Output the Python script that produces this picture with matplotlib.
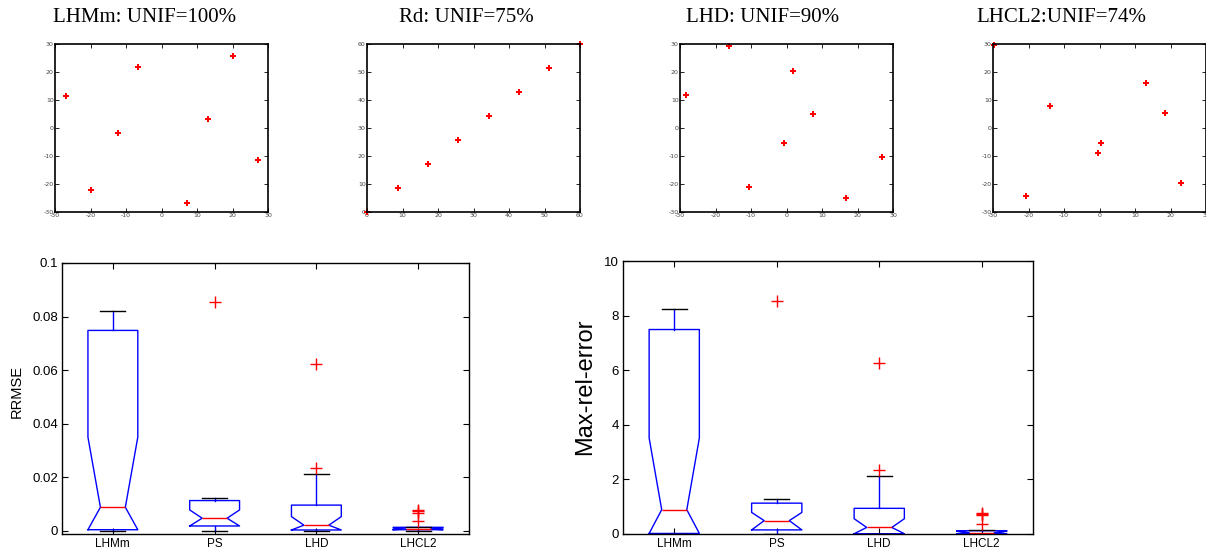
import matplotlib
matplotlib.use("Agg")
import matplotlib.pyplot as plt

plt.rcParams["axes.unicode_minus"] = False

# ---- scatter panels (design points) ----
titles = ["LHMm: UNIF=100%", "Rd: UNIF=75%", "LHD: UNIF=90%", "LHCL2:UNIF=74%"]
title_x = [145, 466, 763, 1061]

lhmm_x = [-26.8, -19.9, -12.2, -6.6, 7.2, 13.1, 20.1, 27.2]
lhmm_y = [11.4, -22.1, -1.8, 21.8, -26.8, 3.2, 25.6, -11.4]
rd_x = [0, 8.6, 17.1, 25.7, 34.3, 42.9, 51.4, 60]
rd_y = [0, 8.6, 17.1, 25.7, 34.3, 42.9, 51.4, 60]
lhd_x = [-28.3, -16.1, -10.5, -0.8, 1.9, 7.5, 16.9, 26.9]
lhd_y = [11.8, 29.4, -21.1, -5.4, 20.4, 5.0, -24.9, -10.2]
lhcl2_x = [-29.8, -20.6, -14.0, -0.3, 0.3, 13.2, 18.4, 22.9]
lhcl2_y = [29.6, -24.4, 7.9, -8.9, -5.2, 15.9, 5.5, -19.6]

sym_ticks = [-30, -20, -10, 0, 10, 20, 30]
pos_ticks = [0, 10, 20, 30, 40, 50, 60]

# ---- box plot summaries ----
methods = ["LHMm", "PS", "LHD", "LHCL2"]

rrmse_q1 = [0.0003, 0.0017, 0.0002, 0.0003]
rrmse_med = [0.0087, 0.0046, 0.0020, 0.0006]
rrmse_q3 = [0.0748, 0.0112, 0.0095, 0.0012]
rrmse_cilo = [0.0003, 0.0017, 0.0002, 0.0003]
rrmse_cihi = [0.0349, 0.0077, 0.0052, 0.0009]
rrmse_wlo = [0.0, 0.0, 0.0, 0.0]
rrmse_whi = [0.0822, 0.0123, 0.0210, 0.0014]
rrmse_fliers = [[], [0.0856], [0.0234, 0.0624], [0.0034, 0.0066, 0.0072, 0.0076]]
rrmse_ticks = [0, 0.02, 0.04, 0.06, 0.08, 0.1]
rrmse_ticklabels = ["0", "0.02", "0.04", "0.06", "0.08", "0.1"]

mre_q1 = [0.02, 0.15, 0.01, 0.01]
mre_med = [0.89, 0.49, 0.24, 0.05]
mre_q3 = [7.49, 1.13, 0.94, 0.12]
mre_cilo = [0.02, 0.15, 0.01, 0.01]
mre_cihi = [3.52, 0.79, 0.56, 0.10]
mre_wlo = [0.0, 0.0, 0.0, 0.0]
mre_whi = [8.26, 1.27, 2.11, 0.16]
mre_fliers = [[], [8.54], [2.33, 6.26], [0.35, 0.68, 0.72, 0.78]]
mre_ticks = [0, 2, 4, 6, 8, 10]
mre_ticklabels = ["0", "2", "4", "6", "8", "10"]

W, H = 1206, 556
fig = plt.figure(figsize=(W / 100, H / 100), dpi=100)

def px_axes(left, top, right, bottom):
    return fig.add_axes([left / W, 1 - bottom / H, (right - left) / W, (bottom - top) / H])

def style_small(ax, ticks):
    ax.set_xlim(ticks[0], ticks[-1])
    ax.set_ylim(ticks[0], ticks[-1])
    ax.set_xticks(ticks)
    ax.set_yticks(ticks)
    ax.tick_params(direction="in", top=True, right=True, length=3, width=0.6,
                   labelsize=4.5, labelcolor="#444444", pad=1)
    for s in ax.spines.values():
        s.set_linewidth(1.2)

scatter_sets = [(lhmm_x, lhmm_y, sym_ticks), (rd_x, rd_y, pos_ticks),
                (lhd_x, lhd_y, sym_ticks), (lhcl2_x, lhcl2_y, sym_ticks)]
lefts = [55, 367, 680, 993]
for i, (xs, ys, ticks) in enumerate(scatter_sets):
    ax = px_axes(lefts[i], 44, lefts[i] + 213, 212)
    ax.plot(xs, ys, linestyle="none", marker="P", markersize=4.5, color="red",
            markeredgewidth=0, clip_on=False)
    style_small(ax, ticks)
    fig.text(title_x[i] / W, 1 - 18 / H, titles[i], ha="center", va="center",
             fontsize=15, family="Liberation Serif")

def make_stats(q1, med, q3, cilo, cihi, wlo, whi, fliers):
    out = []
    for k in range(len(methods)):
        out.append(dict(label=methods[k], q1=q1[k], med=med[k], q3=q3[k],
                        cilo=cilo[k], cihi=cihi[k], whislo=wlo[k], whishi=whi[k],
                        fliers=fliers[k]))
    return out

def draw_box(ax, stats):
    ax.bxp(stats, positions=[1, 2, 3, 4], widths=0.49, shownotches=True,
           boxprops=dict(color="blue", linewidth=1),
           medianprops=dict(color="red", linewidth=1),
           whiskerprops=dict(color="blue", linewidth=1),
           capprops=dict(color="black", linewidth=1),
           flierprops=dict(marker="+", markeredgecolor="red", markersize=9,
                           markeredgewidth=1))
    ax.set_xlim(0.5, 4.5)
    ax.set_xticks([1, 2, 3, 4])
    ax.set_xticklabels(methods, family="Liberation Sans", fontsize=8.5)
    ax.tick_params(direction="in", top=True, right=True, length=4, width=0.8, pad=3)
    for s in ax.spines.values():
        s.set_linewidth(1.0)

ax1 = px_axes(62, 263, 469, 534)
draw_box(ax1, make_stats(rrmse_q1, rrmse_med, rrmse_q3, rrmse_cilo, rrmse_cihi,
                         rrmse_wlo, rrmse_whi, rrmse_fliers))
ax1.set_ylim(-0.0013, 0.1)
ax1.set_yticks(rrmse_ticks)
ax1.set_yticklabels(rrmse_ticklabels, family="Liberation Sans", fontsize=9.5)
fig.text(17 / W, 1 - 392 / H, "RRMSE", rotation=90, ha="center", va="center",
         fontsize=10.5, family="Liberation Sans")

ax2 = px_axes(623, 261, 1033, 534)
draw_box(ax2, make_stats(mre_q1, mre_med, mre_q3, mre_cilo, mre_cihi,
                         mre_wlo, mre_whi, mre_fliers))
ax2.set_ylim(0, 10)
ax2.set_yticks(mre_ticks)
ax2.set_yticklabels(mre_ticklabels, family="Liberation Sans", fontsize=9.5)
fig.text(585 / W, 1 - 387 / H, "Max-rel-error", rotation=90, ha="center", va="center",
         fontsize=17, family="Liberation Sans")

fig.savefig("out.png", dpi=100)
